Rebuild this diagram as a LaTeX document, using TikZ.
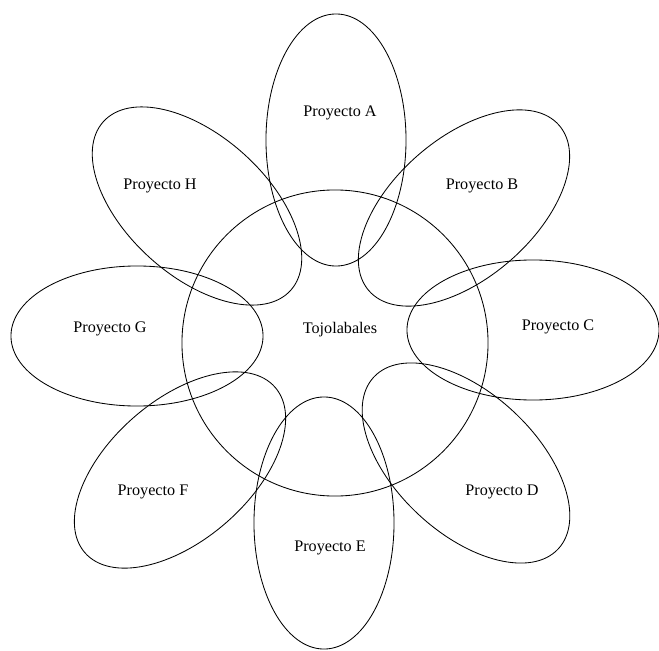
\documentclass[tikz,border=0pt]{standalone}
\usepackage{fontspec}
\setmainfont{Liberation Serif}
\usetikzlibrary{shapes.geometric}
\begin{document}
\begin{tikzpicture}[
    x=0.025cm, y=-0.025cm,
    petal/.style={ellipse, draw, line width=0.6pt, inner sep=0pt, minimum width=6.3cm, minimum height=3.5cm},
    core/.style={circle, draw, line width=0.6pt, inner sep=0pt, minimum size=7.65cm},
    label/.style={font=\fontsize{11.5}{13}\selectfont, inner sep=1pt}
]
\useasboundingbox (0,0) rectangle (659,651);

% centre circle
\node[core] (tojo) at (335, 343) {};

% petals
\node[petal, rotate=90] (petA) at (336, 140) {};
\node[petal, rotate=41] (petB) at (464, 208) {};
\node[petal] (petC) at (533, 330) {};
\node[petal, rotate=-43] (petD) at (466, 463) {};
\node[petal, rotate=90] (petE) at (324, 523) {};
\node[petal, rotate=41] (petF) at (180, 470) {};
\node[petal] (petG) at (137, 336) {};
\node[petal, rotate=-42] (petH) at (197, 206) {};

% labels
\node[label] (labTojo) at (340, 330) {Tojolabales};
\node[label] (labA) at (340, 113) {Proyecto A};
\node[label] (labB) at (482, 186) {Proyecto B};
\node[label] (labC) at (558, 327) {Proyecto C};
\node[label] (labD) at (502, 492) {Proyecto D};
\node[label] (labE) at (330, 548) {Proyecto E};
\node[label] (labF) at (153, 492) {Proyecto F};
\node[label] (labG) at (110, 329) {Proyecto G};
\node[label] (labH) at (160, 186) {Proyecto H};

\end{tikzpicture}
\end{document}
